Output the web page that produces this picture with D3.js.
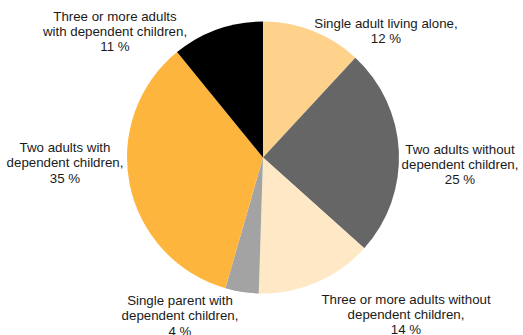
<!DOCTYPE html>
<html>
<head>
<meta charset="utf-8">
<script src="https://cdn.jsdelivr.net/npm/d3@7"></script>
<style>
  html, body { margin: 0; padding: 0; background: #fff; }
  svg { display: block; }
  text { font-family: Arial, "Liberation Sans", sans-serif; font-size: 13.3px; fill: #1a1a1a; }
</style>
</head>
<body>
<svg id="chart" width="523" height="335"></svg>
<script>
// Household types and their share of households (%), clockwise from 12 o'clock
const categories = [
  "Single adult living alone",
  "Two adults without dependent children",
  "Three or more adults without dependent children",
  "Single parent with dependent children",
  "Two adults with dependent children",
  "Three or more adults with dependent children"
];
const shares = [12, 25, 14, 4, 35, 11];
const sliceColors = ["#FED28B", "#666666", "#FFE8C6", "#A3A3A3", "#FEB53D", "#000000"];

// Wrapped label lines for each slice (last line carries the value)
const labelLines = [
  ["Single adult living alone,"],
  ["Two adults without", "dependent children,"],
  ["Three or more adults without", "dependent children,"],
  ["Single parent with", "dependent children,"],
  ["Two adults with", "dependent children,"],
  ["Three or more adults", "with dependent children,"]
];
// Label anchor (centre x, first baseline y)
const labelPos = [
  [386, 27.5],
  [460, 153.5],
  [406, 303.5],
  [180, 305],
  [65, 152],
  [115, 20.5]
];

const svg = d3.select("#chart");
const cx = 263, cy = 157.5, radius = 136;
const lineHeight = 15.3;

const data = categories.map((c, i) => ({ category: c, value: shares[i], i }));

const pie = d3.pie().value(d => d.value).sort(null);
const arc = d3.arc().innerRadius(0).outerRadius(radius);
const color = d3.scaleOrdinal().domain(categories).range(sliceColors);

const g = svg.append("g").attr("transform", `translate(${cx},${cy})`);
g.selectAll("path")
  .data(pie(data))
  .join("path")
  .attr("d", arc)
  .attr("fill", d => color(d.data.category));

const labels = svg.append("g")
  .selectAll("text")
  .data(data)
  .join("text")
  .attr("text-anchor", "middle")
  .attr("x", d => labelPos[d.i][0])
  .attr("y", d => labelPos[d.i][1]);

labels.each(function (d) {
  const t = d3.select(this);
  const lines = labelLines[d.i].concat([`${d.value} %`]);
  lines.forEach((ln, k) => {
    t.append("tspan")
      .attr("x", labelPos[d.i][0])
      .attr("dy", k === 0 ? 0 : lineHeight)
      .text(ln);
  });
});
</script>
</body>
</html>
